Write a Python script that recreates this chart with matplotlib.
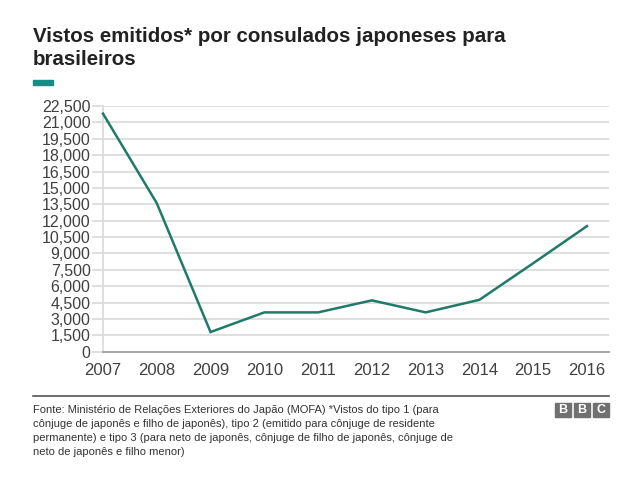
import matplotlib
matplotlib.use("Agg")
import matplotlib.pyplot as plt
from matplotlib.patches import Rectangle
from matplotlib.lines import Line2D

years = [2007, 2008, 2009, 2010, 2011, 2012, 2013, 2014, 2015, 2016]
visas = [21800, 13600, 1800, 3600, 3600, 4700, 3600, 4750, 8100, 11500]
yticks = list(range(0, 22501, 1500))
title_lines = ["Vistos emitidos* por consulados japoneses para", "brasileiros"]
footer = ("Fonte: Ministério de Relações Exteriores do Japão (MOFA) *Vistos do tipo 1 (para\n"
          "cônjuge de japonês e filho de japonês), tipo 2 (emitido para cônjuge de residente\n"
          "permanente) e tipo 3 (para neto de japonês, cônjuge de filho de japonês, cônjuge de\n"
          "neto de japonês e filho menor)")

plt.rcParams['font.family'] = ['Liberation Sans', 'DejaVu Sans']

W, H = 640, 487
fig = plt.figure(figsize=(W/100, H/100), dpi=100)
fig.patch.set_facecolor('white')

ax = fig.add_axes([103/W, 1-351.7/H, (609-103)/W, (351.7-106)/H])
ax.plot(years, visas, color='#1f7a68', lw=1.8, solid_joinstyle='miter', clip_on=False, zorder=3)
ax.set_xlim(2007, 2016.41)
ax.set_ylim(0, 22500)
ax.set_yticks(yticks)
ax.set_yticklabels([f"{v:,}" for v in yticks], fontsize=11.5, color='#404040')
ax.set_xticks(years)
ax.set_xticklabels([str(y) for y in years], fontsize=12, color='#404040')
ax.grid(axis='y', color='#dcdcdc', lw=1.3)
ax.set_axisbelow(True)
for s in ['top', 'right']:
    ax.spines[s].set_visible(False)
ax.spines['left'].set_color('#dcdcdc')
ax.spines['left'].set_linewidth(1.3)
ax.spines['bottom'].set_color('#a0a0a0')
ax.spines['bottom'].set_linewidth(1.3)
ax.tick_params(axis='y', length=8, color='#dcdcdc', width=1.3, pad=1)
ax.tick_params(axis='x', length=0, pad=8)

fig.text(33/W, 1-41.7/H, title_lines[0], fontsize=14.8, fontweight='bold', color='#222222',
         va='baseline', ha='left')
fig.text(33/W, 1-65/H, title_lines[1], fontsize=14.8, fontweight='bold', color='#222222',
         va='baseline', ha='left')
fig.patches.append(Rectangle((33/W, 1-85/H), 20/W, 5/H, transform=fig.transFigure,
                             color='#1a8a84'))

fig.lines.append(Line2D([33/W, 609/W], [1-396/H, 1-396/H], transform=fig.transFigure,
                        color='#555555', lw=1.2))
fig.text(33/W, 1-405/H, footer, fontsize=8.0, color='#333333', va='top', ha='left',
         linespacing=1.5)

# BBC logo
for i, ch in enumerate("BBC"):
    x0 = 555 + i*19
    fig.patches.append(Rectangle((x0/W, 1-417/H), 16/W, 14/H, transform=fig.transFigure,
                                 color='#707070'))
    fig.text((x0+8)/W, 1-410/H, ch, fontsize=9, fontweight='bold', color='white',
             ha='center', va='center')

fig.savefig('out.png', dpi=100, facecolor='white')
